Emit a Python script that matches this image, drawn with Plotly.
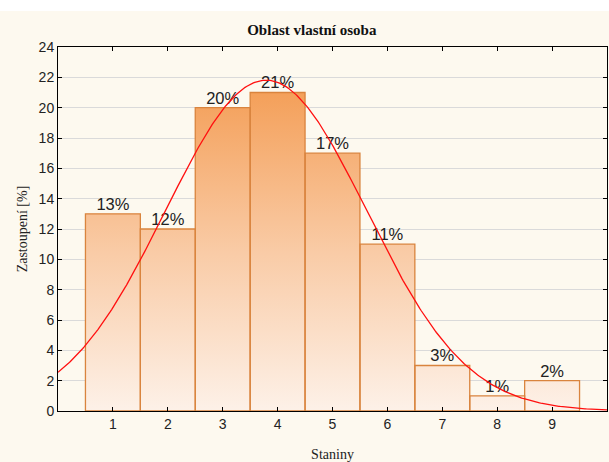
import numpy as np
import plotly.graph_objects as go

# ---- data ----
categories = [1, 2, 3, 4, 5, 6, 7, 8, 9]
values = [13, 12, 20, 21, 17, 11, 3, 1, 2]
labels = ["13%", "12%", "20%", "21%", "17%", "11%", "3%", "1%", "2%"]
y_ticks = list(range(0, 25, 2))

title = "Oblast vlastní osoba"
x_title = "Staniny"
y_title = "Zastoupení [%]"

# ---- bars as filled polygons (to allow vertical gradient) ----
bx, by = [], []
for c, v in zip(categories, values):
    bx += [c - 0.5, c - 0.5, c + 0.5, c + 0.5, c - 0.5, None]
    by += [0, v, v, 0, 0, None]

# ---- fitted normal curve from the data ----
cats = np.array(categories, dtype=float)
vals = np.array(values, dtype=float)
mu = (cats * vals).sum() / vals.sum()
sd = np.sqrt(((cats - mu) ** 2 * vals).sum() / vals.sum())
xc = np.linspace(0, 10, 400)
yc = vals.sum() / (sd * np.sqrt(2 * np.pi)) * np.exp(-(xc - mu) ** 2 / (2 * sd ** 2))

fig = go.Figure()
fig.add_trace(go.Scatter(
    x=bx, y=by, mode="lines", fill="toself",
    line=dict(color="#D9843E", width=1.3),
    fillgradient=dict(type="vertical",
                      colorscale=[[0, "#FDF1E8"], [0.5, "#F9CBA6"], [1, "#F4A05A"]],
                      start=0, stop=max(values)),
    hoverinfo="skip", showlegend=False,
))
fig.add_trace(go.Scatter(
    x=categories, y=values, mode="text", text=labels,
    textposition="top center",
    textfont=dict(family="Liberation Sans, Arial", size=16.5, color="#222222"),
    showlegend=False, hoverinfo="skip",
))
fig.add_trace(go.Scatter(
    x=xc, y=yc, mode="lines", line=dict(color="#FF1010", width=1.3),
    showlegend=False, hoverinfo="skip",
))

# cream background band (white strip at top)
fig.add_shape(type="rect", xref="paper", yref="paper",
              x0=-0.2, x1=1.2, y0=-0.3, y1=1.0 + 36 / 363,
              fillcolor="#FDF9EF", line=dict(width=0), layer="below")

fig.update_layout(
    width=609, height=462,
    margin=dict(l=58, r=2, t=47, b=51, autoexpand=False),
    paper_bgcolor="white", plot_bgcolor="white",
    title=dict(text="<b>" + title + "</b>", x=0.512, xanchor="center",
               y=1 - 30 / 462, yanchor="middle",
               font=dict(family="Liberation Serif, Times New Roman", size=15, color="#111111")),
    showlegend=False,
)
fig.update_xaxes(
    range=[0, 10], tickvals=categories, ticktext=[str(c) for c in categories],
    ticks="inside", ticklen=4, tickcolor="black",
    showline=True, linecolor="black", linewidth=1, mirror="ticks",
    showgrid=False, zeroline=False, automargin=False,
    tickfont=dict(family="Liberation Sans, Arial", size=14, color="#222222"),
    title=dict(text=x_title, standoff=19,
               font=dict(family="Liberation Serif, Times New Roman", size=14, color="#222222")),
)
fig.update_yaxes(
    range=[0, 24], tickvals=y_ticks,
    ticks="inside", ticklen=4, tickcolor="black",
    showline=True, linecolor="black", linewidth=1, mirror="ticks",
    showgrid=True, gridcolor="#DADADA", gridwidth=1, zeroline=False, automargin=False,
    tickfont=dict(family="Liberation Sans, Arial", size=14, color="#222222"),
    title=dict(text=y_title, standoff=7,
               font=dict(family="Liberation Serif, Times New Roman", size=14, color="#222222")),
)

fig.write_html("out.html", config={"displayModeBar": False},
               post_script="document.body.style.margin='0';")
